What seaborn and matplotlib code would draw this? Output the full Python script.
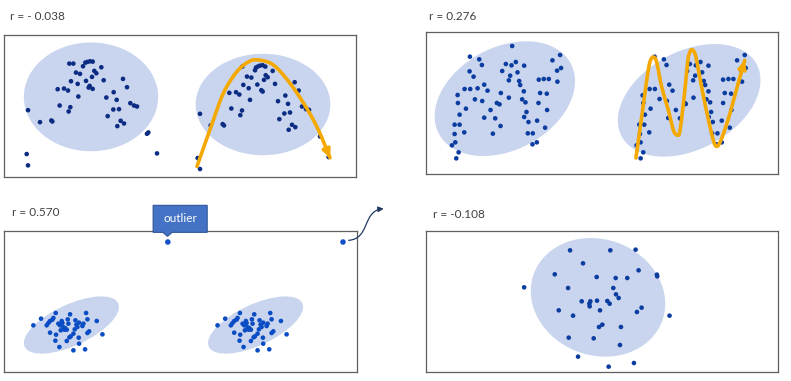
import numpy as np
import matplotlib
matplotlib.use("Agg")
import matplotlib.pyplot as plt
import seaborn as sns
from matplotlib.patches import Ellipse, Polygon, FancyArrowPatch
from matplotlib.path import Path

# values; each panel uses its own units (box spans the axis limits)
titles = ["r = - 0.038", "r = 0.276", "r = 0.570", "r = -0.108"]

# panel 1: arch shaped cloud, shown twice
p1_left_x = [84, 120, 154, 157, 173, 192, 204, 179, 206, 211, 213, 235, 233, 228, 240, 208, 220, 249, 256, 262,
             270, 278, 258, 269, 266, 278, 276, 283, 289, 304, 311, 319, 323, 340, 341, 350, 357, 352, 362, 372,
             369, 381, 391, 402, 411, 441, 445, 471, 80, 84]
p1_left_y = [331, 367, 362, 365, 268, 266, 272, 317, 335, 322, 244, 290, 252, 218, 222, 191, 191, 199, 188, 186,
             184, 185, 243, 258, 263, 267, 231, 213, 220, 202, 241, 293, 349, 329, 277, 300, 328, 379, 363, 371,
             237, 262, 310, 317, 320, 402, 398, 461, 463, 497]
p1_right_x = [600, 632, 668, 672, 688, 708, 718, 694, 721, 726, 727, 730, 746, 750, 741, 754, 765, 768, 773, 780,
              788, 796, 772, 784, 788, 792, 797, 803, 818, 825, 834, 838, 853, 856, 864, 870, 866, 876, 886, 884,
              896, 906, 918, 927, 960, 986, 593, 600]
p1_right_y = [342, 377, 373, 377, 279, 277, 284, 326, 346, 332, 200, 255, 265, 300, 230, 233, 211, 203, 200, 197,
              196, 200, 254, 271, 275, 240, 226, 232, 213, 252, 304, 358, 341, 287, 312, 338, 390, 375, 382, 247,
              272, 320, 328, 330, 410, 472, 475, 508]
p1_arch_x = [591, 612, 635, 670, 710, 745, 774, 820, 870, 920, 955, 980, 990]
p1_arch_y = [500, 440, 375, 280, 216, 186, 180, 195, 250, 325, 390, 450, 474]

# panel 2: wave shaped cloud, shown twice
p2_left_x = [336, 209, 237, 245, 208, 220, 193, 210, 232, 252, 262, 224, 246, 172, 173, 178, 197, 163, 178, 163,
             192, 165, 155, 175, 168, 252, 271, 285, 301, 278, 290, 302, 298, 326, 317, 334, 347, 372, 306, 330,
             326, 352, 357, 360, 371, 366, 376, 379, 372, 385, 383, 398, 397, 410, 411, 415, 420, 440, 441, 435,
             431, 416, 446, 472, 471, 483, 457, 480]
p2_left_y = [139, 171, 179, 196, 215, 231, 268, 268, 266, 255, 273, 299, 304, 286, 310, 345, 327, 375, 375, 403,
             398, 428, 437, 458, 476, 354, 331, 356, 379, 402, 310, 280, 314, 294, 193, 197, 187, 198, 214, 228,
             242, 218, 244, 256, 275, 299, 308, 337, 352, 367, 401, 401, 434, 428, 363, 310, 280, 282, 331, 384,
             238, 240, 238, 246, 213, 205, 182, 166]
p2_right_x = [764, 792, 800, 749, 765, 779, 801, 728, 730, 735, 752, 718, 733, 720, 748, 722, 710, 730, 722, 808,
              818, 805, 828, 840, 855, 858, 881, 870, 888, 902, 926, 862, 886, 880, 907, 912, 916, 926, 920, 931,
              934, 927, 939, 937, 953, 951, 966, 966, 970, 975, 994, 995, 990, 986, 970, 1001, 1027, 1025, 1038,
              1012, 1035]
p2_right_y = [171, 179, 196, 268, 268, 298, 304, 287, 310, 345, 327, 375, 375, 403, 398, 428, 437, 458, 476, 255,
              273, 355, 331, 356, 310, 313, 294, 193, 197, 187, 198, 214, 228, 242, 218, 244, 256, 275, 299, 308,
              337, 352, 367, 401, 401, 434, 428, 363, 310, 280, 282, 331, 384, 238, 240, 238, 246, 213, 205, 182,
              166]
p2_wave_x = [708, 720, 735, 747, 755, 763, 771, 785, 805, 820, 827, 833, 840, 852, 863, 869, 875, 882, 889, 900,
             917, 935, 944, 950, 957, 968, 988, 1010, 1035]
p2_wave_y = [475, 390, 280, 200, 176, 173, 190, 260, 330, 390, 403, 406, 395, 300, 190, 160, 150, 155, 175, 235,
             320, 400, 432, 440, 435, 410, 350, 270, 182]

# panel 3: two tight clusters plus two outliers
p3_left_x = [100, 123, 140, 145, 150, 157, 160, 167, 150, 166, 178, 168, 182, 180, 187, 190, 193, 195, 200, 203,
             205, 210, 208, 212, 200, 220, 224, 226, 229, 232, 237, 220, 237, 236, 247, 250, 258, 262, 262, 267,
             255, 290, 307, 175, 185]
p3_left_y = [405, 385, 405, 398, 392, 388, 383, 368, 427, 451, 470, 433, 420, 405, 398, 411, 418, 413, 418, 387,
             400, 372, 441, 438, 452, 430, 417, 390, 403, 410, 397, 480, 460, 442, 407, 400, 368, 387, 428, 423,
             477, 392, 432, 400, 392]
p3_right_x = [652, 675, 692, 697, 702, 709, 712, 719, 702, 718, 730, 720, 734, 732, 739, 742, 745, 747, 752, 755,
              757, 762, 760, 764, 752, 772, 776, 778, 781, 784, 789, 772, 789, 788, 799, 802, 810, 814, 814, 819,
              807, 842, 859, 727, 737]
p3_right_y = [405, 385, 405, 398, 392, 388, 383, 368, 427, 451, 470, 433, 420, 405, 398, 411, 418, 413, 418, 387,
              400, 372, 441, 438, 452, 430, 417, 390, 403, 410, 397, 480, 460, 442, 407, 400, 368, 387, 428, 423,
              477, 392, 432, 400, 392]
p3_outlier_x = [503, 1028]
p3_outlier_y = [155, 155]

# panel 4: single round cloud
p4_x = [510, 631, 707, 549, 464, 716, 771, 772, 590, 647, 682, 372, 504, 640, 648, 656, 545, 571, 568, 569,
        591, 622, 629, 476, 600, 519, 711, 725, 809, 597, 607, 663, 506, 581, 660, 534, 626, 702]
p4_y = [180, 180, 178, 219, 252, 240, 253, 258, 260, 263, 263, 291, 293, 293, 312, 323, 333, 333, 340, 348,
        331, 332, 340, 360, 360, 376, 365, 352, 376, 410, 403, 410, 442, 444, 464, 499, 529, 518]

FILL = "#c9d5ee"
DOT = "#0b3c9f"
DOT_DARK = "#0b2c82"
ORANGE = "#f4a802"
EDGE = "#5f5f5f"
W, H = 791, 381


def smooth(xs, ys, n=14):
    # Catmull-Rom through the hand-drawn path vertices
    pts = np.column_stack([xs, ys]).astype(float)
    p = np.vstack([pts[0], pts, pts[-1]])
    out = []
    t = np.linspace(0, 1, n, endpoint=False)[:, None]
    for i in range(1, len(p) - 2):
        p0, p1, p2, p3 = p[i - 1], p[i], p[i + 1], p[i + 2]
        out.append(0.5 * (2 * p1 + (-p0 + p2) * t + (2 * p0 - 5 * p1 + 4 * p2 - p3) * t ** 2
                          + (-p0 + 3 * p1 - 3 * p2 + p3) * t ** 3))
    out.append(p[-2][None])
    return np.vstack(out)


def make_panel(fig, box):
    left, top, w, h = box
    ax = fig.add_axes([left / W, 1 - (top + h) / H, w / W, h / H])
    ax.set_xticks([])
    ax.set_yticks([])
    for s in ax.spines.values():
        s.set_visible(True)
        s.set_color(EDGE)
        s.set_linewidth(0.9)
    ax.set_facecolor("white")
    return ax


def dots(ax, xs, ys, color=DOT, size=11):
    sns.scatterplot(x=xs, y=ys, ax=ax, color=color, s=size, edgecolor="none", zorder=3, legend=False)


def orange_path(ax, xs, ys):
    path = smooth(xs, ys)
    ax.plot(path[:, 0], path[:, 1], color=ORANGE, lw=2.6, solid_capstyle="round",
            solid_joinstyle="round", zorder=4)
    ax.annotate("", xy=path[-1], xytext=path[-6],
                arrowprops=dict(arrowstyle="-|>", color=ORANGE, lw=2.6, mutation_scale=11, shrinkA=0, shrinkB=0),
                zorder=5)


sns.set_theme(style="white")
plt.rcParams["font.family"] = ["Lato", "DejaVu Sans"]

fig = plt.figure(figsize=(W / 100, H / 100), dpi=100)
fig.patch.set_facecolor("white")

# panel 1
ax1 = make_panel(fig, (4, 35, 352, 142))
ax1.add_patch(Ellipse((273, 291), 403, 327, color=FILL, lw=0, zorder=1))
ax1.add_patch(Ellipse((789, 314), 404, 305, color=FILL, lw=0, zorder=1))
dots(ax1, p1_left_x, p1_left_y, DOT_DARK)
dots(ax1, p1_right_x, p1_right_y, DOT_DARK)
orange_path(ax1, p1_arch_x, p1_arch_y)
ax1.set_xlim(12, 1068)
ax1.set_ylim(532, 105)

# panel 2
ax2 = make_panel(fig, (426, 32, 352, 142))
ax2.add_patch(Ellipse((314, 297), 449, 308, angle=-28, color=FILL, lw=0, zorder=1))
ax2.add_patch(Ellipse((868, 302), 460, 294, angle=-28, color=FILL, lw=0, zorder=1))
dots(ax2, p2_left_x, p2_left_y)
dots(ax2, p2_right_x, p2_right_y)
orange_path(ax2, p2_wave_x, p2_wave_y)
ax2.set_xlim(77, 1135)
ax2.set_ylim(523, 97)

# panel 3
ax3 = make_panel(fig, (4, 231, 353, 141))
ax3.add_patch(Ellipse((214, 404), 309, 123, angle=-25, color=FILL, lw=0, zorder=1))
ax3.add_patch(Ellipse((766, 404), 309, 123, angle=-25, color=FILL, lw=0, zorder=1))
dots(ax3, p3_left_x, p3_left_y, "#0a4cc4")
dots(ax3, p3_right_x, p3_right_y, "#0a4cc4")
dots(ax3, p3_outlier_x, p3_outlier_y, "#1450c8", 16)
ax3.set_xlim(12, 1070)
ax3.set_ylim(545, 122)

# "outlier" callout
callout = Polygon([(459, 45), (621, 45), (621, 126), (516, 126), (502, 138), (488, 126), (459, 126)],
                  closed=True, facecolor="#4472c4", edgecolor="#2f5597", lw=0.8, zorder=6, clip_on=False)
ax3.add_patch(callout)
ax3.text(540, 86, "outlier", color="white", fontsize=8.5, ha="center", va="center", zorder=7)

# curved arrow off the second outlier
curve = Path([(1045, 150), (1110, 145), (1085, 62), (1150, 55)],
             [Path.MOVETO, Path.CURVE4, Path.CURVE4, Path.CURVE4])
ax3.add_patch(FancyArrowPatch(path=curve, arrowstyle="-|>", mutation_scale=8, color="#1f3864",
                              lw=0.9, clip_on=False, zorder=6))

# panel 4
ax4 = make_panel(fig, (426, 231, 352, 141))
ax4.add_patch(Ellipse((594, 321), 411, 348, angle=20, color=FILL, lw=0, zorder=1))
dots(ax4, p4_x, p4_y)
ax4.set_xlim(77, 1135)
ax4.set_ylim(545, 122)

# panel captions
title_pos = [(10, 17), (429, 17), (12, 212), (433, 214)]
for (tx, ty), label in zip(title_pos, titles):
    fig.text(tx / W, 1 - ty / H, label, fontsize=8.5, color="#404040", ha="left", va="center")

fig.savefig("out.png", dpi=100, facecolor="white")
